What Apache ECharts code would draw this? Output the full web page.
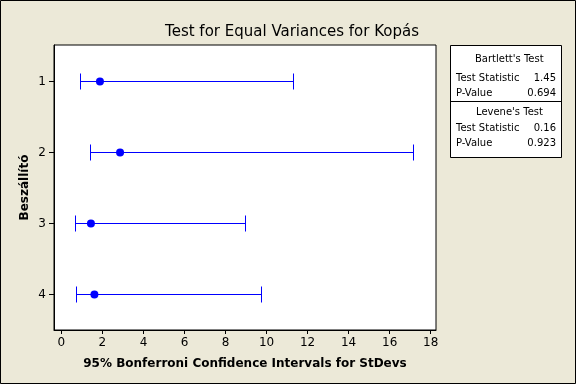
<!DOCTYPE html>
<html><head><meta charset="utf-8">
<script src="https://cdn.jsdelivr.net/npm/echarts@6/dist/echarts.min.js"></script>
<style>html,body{margin:0;padding:0;background:#ECE9D8}#c{width:576px;height:384px}</style>
</head><body><div id="c"></div><script>
const categories = ['1', '2', '3', '4'];
const lowerCI = [0.91, 1.40, 0.71, 0.76];
const sigmaEst = [1.88, 2.86, 1.44, 1.61];
const upperCI = [11.30, 17.15, 8.96, 9.74];
const xTicks = [0, 2, 4, 6, 8, 10, 12, 14, 16, 18];
const bartlettRows = [['Test Statistic', '1.45'], ['P-Value', '0.694']];
const leveneRows = [['Test Statistic', '0.16'], ['P-Value', '0.923']];

const FONT = 'DejaVu Sans';
const BLUE = '#0000FF';
const chart = echarts.init(document.getElementById('c'), null, {renderer: 'canvas'});

const ciData = categories.map((c, i) => [i + 1, lowerCI[i], upperCI[i]]);
const dotData = categories.map((c, i) => [sigmaEst[i], i + 1]);
const yVals = categories.map((c, i) => i + 1);

function statText(rows, yTop) {
  const out = [];
  rows.forEach((r, k) => {
    out.push({type: 'text', left: 456, top: yTop + k * 15, style: {text: r[0], font: '10px ' + FONT, fill: '#000'}});
    out.push({type: 'text', right: 576 - 556, top: yTop + k * 15, style: {text: r[1], font: '10px ' + FONT, fill: '#000', textAlign: 'right'}});
  });
  return out;
}
const px = v => Math.round(v - 0.5) + 0.5;

chart.setOption({
  backgroundColor: '#ECE9D8',
  animation: false,
  title: {
    text: 'Test for Equal Variances for Kopás',
    left: 287, top: 20, textAlign: 'center',
    textStyle: {fontFamily: FONT, fontSize: 15, fontWeight: 'normal', color: '#000'}
  },
  grid: {left: 54, right: 140, top: 45, bottom: 54, show: true, backgroundColor: '#fff', borderColor: '#000', borderWidth: 1},
  xAxis: {
    type: 'value', min: -0.36, max: 18.26,
    name: '95% Bonferroni Confidence Intervals for StDevs',
    nameLocation: 'middle', nameGap: 28,
    nameTextStyle: {fontFamily: FONT, fontSize: 12, fontWeight: 'bold', color: '#000'},
    axisLine: {show: true, onZero: false, lineStyle: {color: '#000'}},
    axisTick: {show: true, length: 4, lineStyle: {color: '#000'}, customValues: xTicks},
    axisLabel: {fontFamily: FONT, fontSize: 12, color: '#000', margin: 7, customValues: xTicks},
    splitLine: {show: false}
  },
  yAxis: {
    type: 'value', inverse: true, min: 0.48592, max: 4.5,
    name: 'Beszállító', nameLocation: 'middle', nameGap: 23, nameMoveOverlap: false,
    nameTextStyle: {fontFamily: FONT, fontSize: 12, fontWeight: 'bold', color: '#000'},
    axisLine: {show: true, onZero: false, lineStyle: {color: '#000'}},
    axisTick: {show: true, length: 5, lineStyle: {color: '#000'}, customValues: yVals},
    axisLabel: {fontFamily: FONT, fontSize: 12, color: '#000', margin: 8, customValues: yVals,
      formatter: v => categories[Math.round(v) - 1]},
    splitLine: {show: false}
  },
  series: [
    {
      type: 'custom',
      data: ciData,
      encode: {x: [1, 2], y: 0},
      renderItem: function (params, api) {
        const y = api.value(0), lo = api.value(1), hi = api.value(2);
        const a = api.coord([lo, y]), b = api.coord([hi, y]);
        const yy = px(a[1]), xa = px(a[0]), xb = px(b[0]);
        const h = 8;
        const st = {stroke: BLUE, lineWidth: 1};
        return {type: 'group', children: [
          {type: 'line', shape: {x1: xa, y1: yy, x2: xb, y2: yy}, style: st},
          {type: 'line', shape: {x1: xa, y1: yy - h, x2: xa, y2: yy + h}, style: st},
          {type: 'line', shape: {x1: xb, y1: yy - h, x2: xb, y2: yy + h}, style: st}
        ]};
      }
    },
    {
      type: 'scatter', data: dotData, symbol: 'circle', symbolSize: 8,
      itemStyle: {color: BLUE, opacity: 1}, z: 5
    }
  ],
  graphic: [
    {type: 'rect', shape: {x: 0.5, y: 0.5, width: 575, height: 383}, style: {fill: 'none', stroke: '#000', lineWidth: 1}, z: 100},
    {type: 'rect', shape: {x: 450.5, y: 45.5, width: 111, height: 112}, style: {fill: '#fff', stroke: '#000', lineWidth: 1}},
    {type: 'line', shape: {x1: 450.5, y1: 101.5, x2: 561.5, y2: 101.5}, style: {stroke: '#000', lineWidth: 1}},
    {type: 'text', left: 475, top: 54, style: {text: "Bartlett's Test", font: '10px ' + FONT, fill: '#000'}},
    ...statText(bartlettRows, 73),
    {type: 'text', left: 476, top: 107, style: {text: "Levene's Test", font: '10px ' + FONT, fill: '#000'}},
    ...statText(leveneRows, 123)
  ]
});
</script></body></html>
